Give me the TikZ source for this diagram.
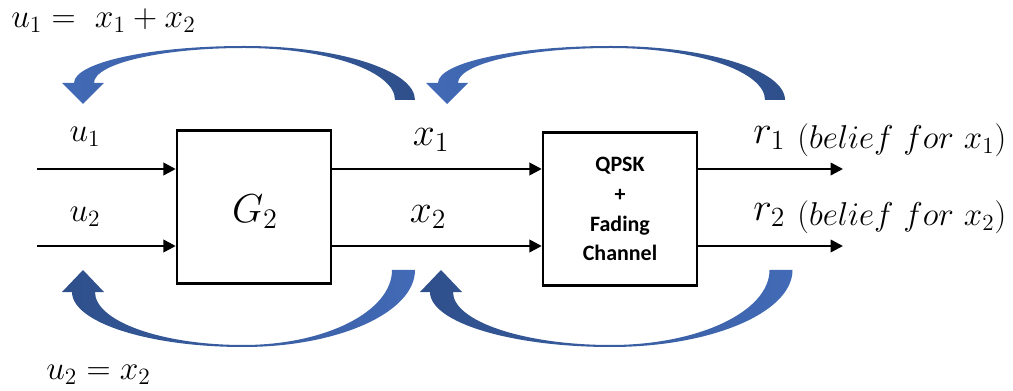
\RequirePackage{fix-cm}
\documentclass[tikz,border=0pt]{standalone}
\usepackage{fontspec}
\newfontfamily\boxfont{Carlito}
\usetikzlibrary{arrows.meta}

\definecolor{bluelight}{RGB}{66,106,182}
\definecolor{bluedark}{RGB}{46,79,138}

\tikzset{
  blk/.style={draw, line width=1.4pt, minimum width=3.08cm, minimum height=3.06cm, inner sep=0pt},
  sig/.style={line width=1.4pt, -{Triangle[length=7pt,width=7pt]}},
  lbl/.style={inner sep=0pt, font=\fontsize{19}{21}\selectfont},
  biglbl/.style={inner sep=0pt, font=\fontsize{22.5}{24}\selectfont},
  belief/.style={inner sep=0pt, anchor=west, font=\fontsize{18.8}{20}\selectfont},
}

% Bezier constant for quarter ellipses
\def\kk{0.5523}

% crescent-shaped feedback arrow above the chain: head tip x, tail centre x, fill
\newcommand{\overarc}[3]{%
  \pgfmathsetmacro{\m}{(#1+#2)/2}%
  \pgfmathsetmacro{\ro}{#2+10-\m}\pgfmathsetmacro{\ri}{#2-10-\m}%
  \pgfmathsetmacro{\lo}{\m-#1+9}\pgfmathsetmacro{\li}{\m-#1-11}%
  \path[#3] (#2+10,100)
    .. controls (#2+10,100-\kk*54) and (\m+\kk*\ro,46) .. (\m,46)
    .. controls (\m-\kk*\lo,46) and (#1-9,83-\kk*37) .. (#1-9,83)
    -- (#1-21,83) -- (#1,104) -- (#1+21,83) -- (#1+11,83)
    .. controls (#1+11,83-\kk*35) and (\m-\kk*\li,48) .. (\m,48)
    .. controls (\m+\kk*\ri,48) and (#2-10,100-\kk*52) .. (#2-10,100) -- cycle;}
% crescent-shaped feedback arrow below the chain
\newcommand{\underarc}[3]{%
  \pgfmathsetmacro{\m}{(#1+#2)/2}%
  \pgfmathsetmacro{\ro}{#2+11.5-\m}\pgfmathsetmacro{\ri}{#2-11.5-\m}%
  \pgfmathsetmacro{\lo}{\m-#1+11}\pgfmathsetmacro{\li}{\m-#1-12}%
  \path[#3] (#2+11.5,270)
    .. controls (#2+11.5,270+\kk*77) and (\m+\kk*\ro,347) .. (\m,347)
    .. controls (\m-\kk*\lo,347) and (#1-11,292+\kk*55) .. (#1-11,292)
    -- (#1-21,292) -- (#1,270) -- (#1+21,292) -- (#1+12,292)
    .. controls (#1+12,292+\kk*53) and (\m-\kk*\li,345) .. (\m,345)
    .. controls (\m+\kk*\ri,345) and (#2-11.5,270+\kk*75) .. (#2-11.5,270) -- cycle;}

\begin{document}
\begin{tikzpicture}[x=0.02cm, y=-0.02cm]
\useasboundingbox (0,0) rectangle (1013,391);

% blocks
\node[blk] (g) at (254,207) {};
\node[inner sep=0pt, font=\fontsize{23}{25}\selectfont] (gl) at (255,212) {$G_2$};
\node[blk, align=center, font=\boxfont\bfseries\fontsize{12.5}{17}\selectfont] (q) at (620,209)
  {QPSK\\+\\Fading\\Channel};

% signal lines
\coordinate (in1) at (37,169);
\coordinate (in2) at (37,246);
\coordinate (o1) at (843,169);
\coordinate (o2) at (843,246);
\draw[sig] (in1) -- (in1 -| g.west);
\draw[sig] (in2) -- (in2 -| g.west);
\draw[sig] (g.east |- in1) -- (q.west |- in1);
\draw[sig] (g.east |- in2) -- (q.west |- in2);
\draw[sig] (q.east |- o1) -- (o1);
\draw[sig] (q.east |- o2) -- (o2);

% signal labels
\node[lbl] (u1) at (85,137) {$u_1$};
\node[lbl] (u2) at (85,217) {$u_2$};
\node[biglbl] (x1) at (431,140) {$x_1$};
\node[biglbl] (x2) at (428,217) {$x_2$};
\node[biglbl, anchor=west] (r1) at (753,138) {$r_1$};
\node[biglbl, anchor=west] (r2) at (753,215) {$r_2$};
\node[belief] (b1) at (797,140) {$(belief\ for\ x_1)$};
\node[belief] (b2) at (797,217) {$(belief\ for\ x_2)$};

% feedback relations
\node[lbl, anchor=west] (f1) at (11,21) {$u_1 =\ x_1 + x_2$};
\node[lbl, anchor=west] (f2) at (46,375) {$u_2 = x_2$};

% feedback arrows
\overarc{83}{405}{left color=bluelight, right color=bluedark}
\overarc{447}{775}{left color=bluelight, right color=bluedark}
\underarc{83}{403.5}{left color=bluedark, right color=bluelight}
\underarc{441}{781}{left color=bluedark, right color=bluelight}
\end{tikzpicture}
\end{document}
